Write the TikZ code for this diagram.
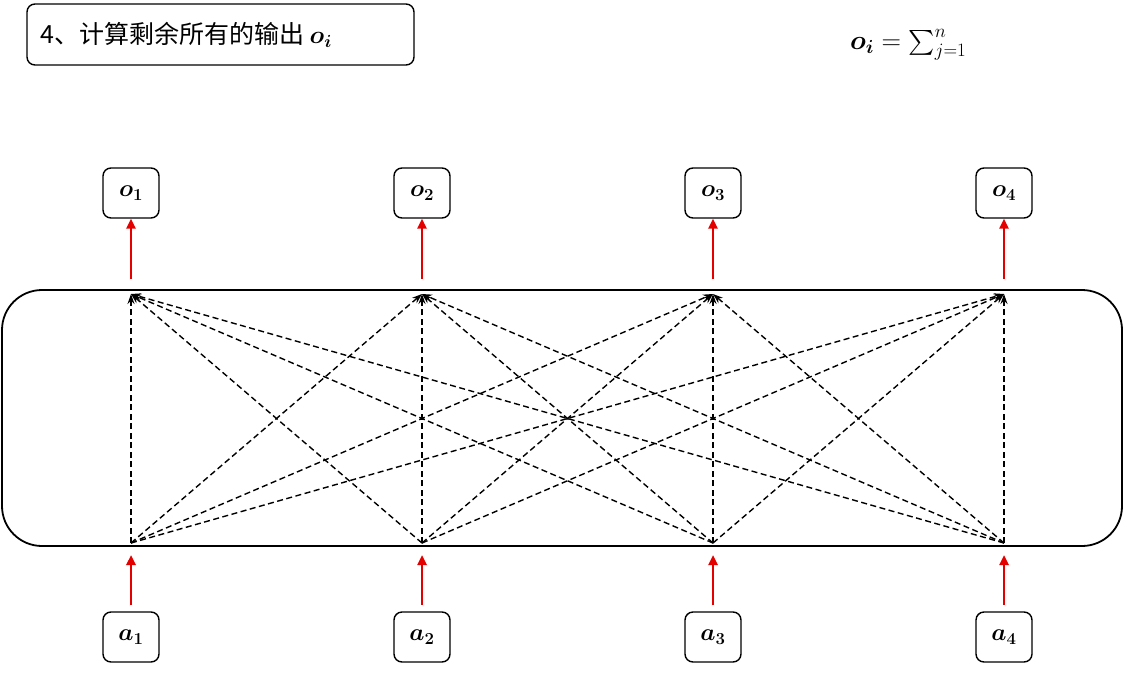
\documentclass[tikz,border=0pt]{standalone}
\usepackage{fix-cm}
\usepackage{amsmath,bm}
\usepackage{fontspec}
\newfontfamily\cjk{Noto Sans CJK SC}
\usetikzlibrary{arrows.meta}
\begin{document}
\begin{tikzpicture}[x=1pt,y=-1pt,
  vbox/.style={draw,line width=1.4pt,rounded corners=8pt,minimum width=56pt,minimum height=50pt,font=\fontsize{24}{28}\selectfont},
  redarr/.style={draw=red!90!black,line width=2.4pt,-{Triangle[length=10pt,width=9pt]}},
  dashline/.style={dash pattern=on 6pt off 3.5pt,line width=1.4pt,-{Stealth[length=10pt,width=7pt]}}]
\useasboundingbox (0,0) rectangle (1124,672);
\draw[line width=1.4pt,rounded corners=8pt] (27,4) rectangle (414,65);
\node[anchor=west,font=\fontsize{25}{30}\selectfont,inner sep=0pt] (title) at (40,35) {\cjk 4、计算剩余所有的输出 \normalfont$\bm{o_i}$};
\node[anchor=west,font=\fontsize{27}{32}\selectfont,inner sep=0pt] (formula) at (850,45) {$\bm{o_i}=\sum\nolimits_{j=1}^{n}$};
\draw[line width=1.8pt,rounded corners=40pt] (2,290) rectangle (1122,546);
\foreach \i/\x in {1/131,2/422,3/713,4/1004}{
  \node[vbox] (o\i) at (\x,193) {$\bm{o_{\i}}$};
  \node[vbox] (a\i) at (\x,637) {$\bm{a_{\i}}$};
  \coordinate (t\i) at (\x,294);
  \coordinate (b\i) at (\x,543);
  \coordinate (ot\i) at (\x,279);
  \coordinate (ab\i) at (\x,605);
  \coordinate (at\i) at (\x,555);
  \draw[redarr] (ot\i) -- (o\i.south);
  \draw[redarr] (ab\i) -- (at\i);
}
\foreach \i in {1,...,4}{\foreach \j in {1,...,4}{\draw[dashline] (b\i) -- (t\j);}}
\end{tikzpicture}
\end{document}
